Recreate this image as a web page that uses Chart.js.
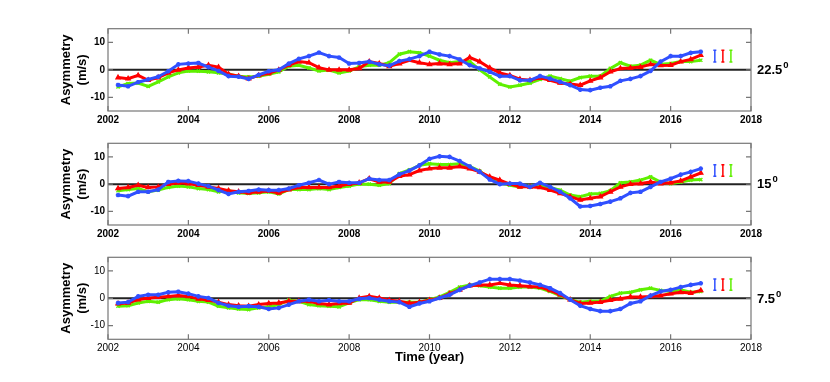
<!DOCTYPE html>
<html>
<head>
<meta charset="utf-8">
<script src="https://cdn.jsdelivr.net/npm/chart.js@4.4.0/dist/chart.umd.min.js"></script>
<style>
body { margin: 0; background: #fff; width: 830px; height: 382px; position: relative; overflow: hidden; font-family: "Liberation Sans", Arial, sans-serif; }
canvas { position: absolute; left: 0; }
.lat { position: absolute; left: 757px; font-weight: bold; font-size: 13px; line-height: 16px; color: #000; }
.lat span { font-size: 9.5px; position: relative; top: -6px; margin-left: 1px; }
#xtitle { position: absolute; left: 108px; width: 643px; top: 349px; text-align: center; font-weight: bold; font-size: 13px; line-height: 16px; }
</style>
</head>
<body>
<canvas id="p0" width="830" height="130" style="top:0px"></canvas>
<canvas id="p1" width="830" height="120" style="top:130px"></canvas>
<canvas id="p2" width="830" height="132" style="top:250px"></canvas>
<div class="lat" style="top:62px">22.5<span>0</span></div>
<div class="lat" style="top:176px">15<span>0</span></div>
<div class="lat" style="top:291px">7.5<span>0</span></div>
<div id="xtitle">Time (year)</div>
<script>
// time axis (quarter-year samples)
var years = [2002.25, 2002.5, 2002.75,
    2003, 2003.25, 2003.5, 2003.75, 2004, 2004.25, 2004.5, 2004.75,
    2005, 2005.25, 2005.5, 2005.75, 2006, 2006.25, 2006.5, 2006.75,
    2007, 2007.25, 2007.5, 2007.75, 2008, 2008.25, 2008.5, 2008.75,
    2009, 2009.25, 2009.5, 2009.75, 2010, 2010.25, 2010.5, 2010.75,
    2011, 2011.25, 2011.5, 2011.75, 2012, 2012.25, 2012.5, 2012.75,
    2013, 2013.25, 2013.5, 2013.75, 2014, 2014.25, 2014.5, 2014.75,
    2015, 2015.25, 2015.5, 2015.75, 2016, 2016.25, 2016.5, 2016.75];

// 22.5 deg
var blue225 = [-5.5, -6, -4.5,
    -3.5, -2.5, -0.5, 2, 2.3, 2.5, 1, -0.4,
    -2.3, -2.5, -3.3, -1.8, -0.5, 0, 2.3, 4,
    5, 6.3, 5, 4.5, 2.3, 2.5, 3, 2,
    1.5, 3.2, 3.9, 5, 6.6, 5.6, 5, 3.8,
    1.7, 0.5, -0.7, -2.3, -2.3, -3.8, -3.8, -2.3,
    -3.2, -4.4, -5.6, -7.2, -7.4, -6.5, -6, -4,
    -3.3, -2.3, -0.4, 3, 5, 5, 6.2, 6.6];
var red225 = [-2.8, -3.2, -2,
    -3.8, -2.8, -1.1, 0, 0.7, 1, 1.7, 1,
    -1.6, -2.3, -3.2, -2, -1.3, 0, 1.7, 3,
    2.6, 0.8, 0, 0, 0, 0.5, 3, 2.3,
    1.3, 2.3, 3.5, 2.6, 2, 2.3, 2, 2.3,
    4.5, 3, 0.7, -1.1, -2, -3.4, -3.8, -2.9,
    -3.8, -4.8, -5.2, -5.6, -4, -2.8, -0.7, 0.5,
    0.7, 1, 2, 1.6, 1.7, 3, 3.8, 5.4];
var green225 = [-6.2, -5, -4.8,
    -6, -4.4, -2.6, -1.1, -0.4, -0.5, -0.7, -1.1,
    -1.6, -2.3, -2.6, -2.3, -1.6, -0.7, 1.3, 1.7,
    0.7, -0.4, -0.1, -1.1, -0.4, 1.1, 1.7, 1.7,
    2.6, 5.7, 6.6, 6.2, 5, 3.5, 2.6, 3,
    3, 0, -2.6, -5.2, -6.2, -5.6, -4.8, -3.5,
    -2.3, -3.2, -4.1, -2.8, -2.3, -2.3, 0.5, 2.6,
    1.3, 1.7, 3.5, 2, 2.3, 3, 3, 3.5];

// 15 deg
var blue150 = [-4, -4.4, -2.8,
    -2.8, -2, 0.8, 1.2, 1.1, 0.2, -0.7, -2.2,
    -3.6, -2.8, -2.5, -2, -2.2, -2.2, -1.6, -0.4,
    0.5, 1.5, 0, 0.8, 0.5, 0.5, 2, 1.5,
    1.5, 3.6, 5, 6.9, 9.3, 10.2, 10, 8.5,
    6.5, 4.5, 1.7, 0, 0.2, 0.2, -1, 0.5,
    -1, -2.8, -5.2, -8.2, -8, -7.3, -6.4, -5.2,
    -3.2, -2.8, -1, 0.8, 2, 3.5, 4.5, 5.7];
var red150 = [-1.6, -1.2, -0.4,
    -1.2, -1, 0, 0.5, 0.2, -0.4, -1, -1.6,
    -2.4, -2.8, -3.2, -2.8, -2.5, -3.2, -2, -1.2,
    -1.2, -1.2, -1.2, -0.7, 0, 0.5, 2, 0.8,
    0.8, 2.9, 3.5, 5, 5.7, 6, 6, 6.5,
    5.7, 4.5, 2.7, 1.5, 0, -1, -1, -1.2,
    -2.2, -3.4, -4.6, -5.8, -5.2, -4.6, -2.8, -1,
    0, 0.2, 0.8, 0.2, 0.5, 1.2, 2.7, 4.1];
var green150 = [-2.4, -2, -1.6,
    -2.8, -2.2, -1.2, -0.7, -1, -1.6, -2, -2.8,
    -2.4, -3.2, -3.4, -3.2, -2.8, -3.6, -2, -2,
    -2, -1.6, -2, -1.2, -0.7, 0, 0, -0.4,
    0.2, 3.9, 5.2, 6.9, 7.5, 7.2, 7.2, 7.5,
    6.5, 4.8, 2, 0.5, -0.4, -1, -0.7, -0.4,
    -1.2, -2.2, -4, -4.6, -3.6, -3.4, -2.4, 0.5,
    0.8, 1.5, 2.7, 0.8, 0.2, 0.8, 1.5, 1.7];

// 7.5 deg
var blue75 = [-1.7, -1.4, 0.7,
    1.3, 1.3, 2.2, 2.4, 1.7, 0.7, 0.1, -1.7,
    -2.7, -3.1, -2.9, -3.1, -3.9, -3.5, -2.3, -1.1,
    -0.5, -1.1, -0.7, -1.1, -1.1, -0.2, 0.1, -0.5,
    -1.1, -1.4, -3.1, -1.9, -1.1, 0.1, 1.3, 3.1,
    4.6, 5.8, 7, 7, 7, 6.5, 5.8, 4.9,
    3.7, 1.9, -0.5, -2.7, -3.9, -4.7, -4.7, -3.9,
    -1.9, -1.1, 1, 2.5, 3.1, 4.1, 4.9, 5.5];
var red75 = [-2, -1.7, -0.5,
    0.1, 0.4, 0.7, 1, 0.7, -0.2, -0.7, -1.4,
    -2.3, -2.7, -2.9, -2.3, -1.9, -1.7, -1.1, -1.1,
    -1.1, -1.9, -2.3, -1.9, -1.7, 0.1, 0.7, 0.1,
    -0.7, -1.1, -1.8, -1.4, -0.7, 0.1, 1.7, 3.1,
    4.6, 4.9, 4.9, 5.5, 4.9, 4.6, 4.3, 4.1,
    2.9, 1.3, -0.5, -1.9, -1.7, -1.4, -0.7, -0.2,
    0.5, 0.5, 0.7, 1, 1.7, 2.2, 1.9, 2.9];
var green75 = [-2.9, -2.7, -1.7,
    -1.1, -1.4, -0.5, -0.2, -0.5, -1.1, -1.4, -2.9,
    -3.5, -3.9, -4.1, -3.5, -3.1, -2.3, -0.7, -1.1,
    -2.3, -2.7, -2.9, -3.1, -1.7, -0.5, -0.5, -1.1,
    -1.4, -1.4, -1.4, -1.4, -0.5, 0.5, 2.2, 4.1,
    4.9, 4.6, 4.1, 3.7, 3.7, 4.1, 4.1, 3.7,
    2.5, 1, -0.5, -1.4, -1.1, -1.1, 0.7, 1.9,
    2.2, 3.1, 3.7, 2.9, 2.5, 3.1, 2.2, 2.5];

var xTicks = [2002, 2004, 2006, 2008, 2010, 2012, 2014, 2016, 2018];
var yTicks = [-10, 0, 10];
// error bars drawn right of the data (blue, red, green)
var errX = [2017.1, 2017.3, 2017.5];
var errY = 5;
var errHalf = 2.1;

var colors = ['#3050ff', '#ff0000', '#5ff000'];
var panels = [
    { id: 'p0', series: [blue225, red225, green225], padTop: 28.7, xH: 19, bold: 'bold' },
    { id: 'p1', series: [blue150, red150, green150], padTop: 13.3, xH: 25, bold: 'bold' },
    { id: 'p2', series: [blue75, red75, green75], padTop: 7.3, xH: 42.7, bold: 'normal' }
];

function toPoints(vals) {
    return vals.map(function (v, i) { return { x: years[i], y: v }; });
}

var framePlugin = {
    id: 'frame',
    beforeDatasetsDraw: function (chart) {
        var ctx = chart.ctx, a = chart.chartArea, y0 = chart.scales.y.getPixelForValue(0);
        ctx.save();
        ctx.strokeStyle = '#222';
        ctx.lineWidth = 2;
        ctx.beginPath();
        ctx.moveTo(a.left, y0);
        ctx.lineTo(a.right, y0);
        ctx.stroke();
        ctx.restore();
    },
    afterDraw: function (chart) {
        var ctx = chart.ctx, a = chart.chartArea, xs = chart.scales.x, ys = chart.scales.y;
        ctx.save();
        ctx.strokeStyle = '#777';
        ctx.lineWidth = 1.2;
        ctx.strokeRect(a.left, a.top, a.right - a.left, a.bottom - a.top);
        ctx.beginPath();
        xTicks.forEach(function (t) {
            var px = xs.getPixelForValue(t);
            ctx.moveTo(px, a.bottom); ctx.lineTo(px, a.bottom - 5);
            ctx.moveTo(px, a.top); ctx.lineTo(px, a.top + 5);
        });
        yTicks.forEach(function (t) {
            var py = ys.getPixelForValue(t);
            ctx.moveTo(a.left, py); ctx.lineTo(a.left + 5, py);
            ctx.moveTo(a.right, py); ctx.lineTo(a.right - 5, py);
        });
        ctx.stroke();

        // error bars
        ctx.lineWidth = 1.5;
        errX.forEach(function (ex, i) {
            var px = xs.getPixelForValue(ex);
            var top = ys.getPixelForValue(errY + errHalf);
            var bot = ys.getPixelForValue(errY - errHalf);
            ctx.strokeStyle = colors[i];
            ctx.beginPath();
            ctx.moveTo(px, top); ctx.lineTo(px, bot);
            ctx.moveTo(px - 1.5, top); ctx.lineTo(px + 1.5, top);
            ctx.moveTo(px - 1.5, bot); ctx.lineTo(px + 1.5, bot);
            ctx.stroke();
        });
        ctx.restore();
    }
};

var styles = ['star', 'triangle', 'crossRot'];

panels.forEach(function (p) {
    var tickFont = { family: '"Liberation Sans", Arial, sans-serif', size: 10, weight: p.bold };
    new Chart(document.getElementById(p.id), {
        type: 'scatter',
        data: {
            datasets: p.series.map(function (s, i) {
                return {
                    data: toPoints(s),
                    showLine: true,
                    borderColor: colors[i],
                    backgroundColor: colors[i],
                    borderWidth: 3,
                    pointStyle: styles[i],
                    pointRadius: 2.3,
                    pointBorderWidth: 1.4,
                    pointBorderColor: colors[i],
                    pointBackgroundColor: colors[i]
                };
            })
        },
        options: {
            responsive: false,
            animation: false,
            layout: { padding: { top: p.padTop, right: 79, left: 0, bottom: 0 } },
            plugins: { legend: { display: false }, tooltip: { enabled: false } },
            scales: {
                x: {
                    type: 'linear', min: 2002, max: 2018,
                    afterBuildTicks: function (s) { s.ticks = xTicks.map(function (v) { return { value: v }; }); },
                    afterFit: function (s) { s.height = p.xH; s.paddingLeft = 0; s.paddingRight = 0; },
                    grid: { display: false, drawTicks: false },
                    border: { display: false },
                    ticks: { padding: 3, color: '#000', font: tickFont, maxRotation: 0, autoSkip: false,
                        callback: function (v) { return String(v); } }
                },
                y: {
                    min: -15, max: 15,
                    afterBuildTicks: function (s) { s.ticks = yTicks.map(function (v) { return { value: v }; }); },
                    afterFit: function (s) { s.width = 108; s.paddingTop = 0; s.paddingBottom = 0; },
                    grid: { display: false, drawTicks: false },
                    border: { display: false },
                    ticks: { padding: 3, color: '#000', font: tickFont },
                    title: {
                        display: true,
                        text: ['Asymmetry', '(m/s)'],
                        color: '#000',
                        font: { family: '"Liberation Sans", Arial, sans-serif', size: 13, weight: 'bold' },
                        padding: { top: 59, bottom: 0 }
                    }
                }
            }
        },
        plugins: [framePlugin]
    });
});
</script>
</body>
</html>
